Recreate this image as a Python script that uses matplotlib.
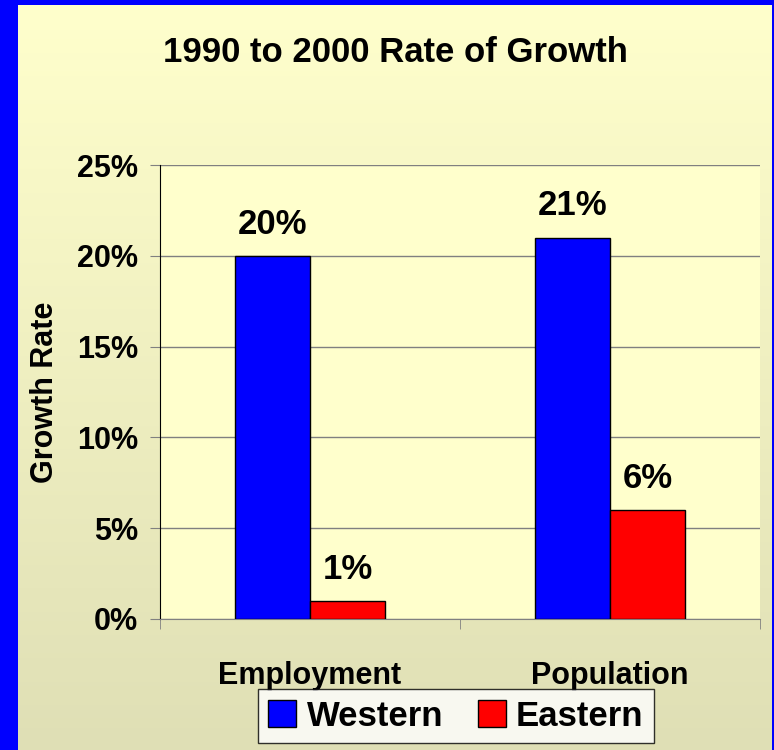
import numpy as np
import matplotlib
matplotlib.use("Agg")
import matplotlib.pyplot as plt

plt.rcParams['font.family'] = ['Liberation Sans', 'DejaVu Sans']
plt.rcParams['font.weight'] = 'bold'

# data
categories = ['Employment', 'Population']
western = [20, 21]
eastern = [1, 6]
yticks = [0, 5, 10, 15, 20, 25]

W, H = 774, 750
fig = plt.figure(figsize=(W / 100, H / 100), dpi=100)
fig.patch.set_facecolor('#0000ff')

# pale yellow background with a gradient toward khaki at the bottom
bg = fig.add_axes([18 / W, 0, (W - 18 - 2) / W, (H - 5) / H])
grad = np.linspace(0, 1, 256).reshape(-1, 1)
top = np.array([1.0, 1.0, 0.80])
bot = np.array([0.875, 0.875, 0.71])
img = top + (bot - top) * grad[..., None]
bg.imshow(img, aspect='auto', extent=[0, 1, 0, 1])
bg.set_axis_off()

ax = fig.add_axes([160 / W, 1 - 619 / H, 600 / W, (619 - 165) / H])
ax.set_facecolor('#ffffcc')

x = np.arange(len(categories))
w = 0.25
b1 = ax.bar(x - w / 2, western, w, color='#0000ff', edgecolor='black', linewidth=1, label='Western', zorder=3)
b2 = ax.bar(x + w / 2, eastern, w, color='#ff0000', edgecolor='black', linewidth=1, label='Eastern', zorder=3)

for bars, vals in [(b1, western), (b2, eastern)]:
    for r, v in zip(bars, vals):
        ax.annotate(f'{v}%', (r.get_x() + r.get_width() / 2, v), xytext=(0, 11),
                    textcoords='offset points', ha='center', va='bottom',
                    fontsize=25, fontweight='bold')

ax.set_xlim(-0.5, 1.5)
ax.set_ylim(0, 25)
ax.set_yticks(yticks)
ax.set_yticklabels([f'{t}%' for t in yticks], fontsize=22, fontweight='bold')
ax.yaxis.grid(True, color='#808080', linewidth=1)
ax.set_axisbelow(True)
ax.tick_params(axis='y', length=7, color='#808080', pad=9)

ax.set_xticks(x)
ax.set_xticklabels(categories, fontsize=22, fontweight='bold')
ax.tick_params(axis='x', which='major', length=0, pad=30)
ax.set_xticks([-0.5, 0.5, 1.5], minor=True)
ax.tick_params(axis='x', which='minor', length=7, color='#808080')

for s in ['top', 'right']:
    ax.spines[s].set_visible(False)
ax.spines['left'].set_color('black')
ax.spines['bottom'].set_color('#808080')

ax.set_ylabel('Growth Rate', fontsize=22, fontweight='bold', labelpad=12)
fig.text(395 / W, 1 - 53 / H, '1990 to 2000 Rate of Growth', ha='center', va='center',
         fontsize=25, fontweight='bold')

leg = fig.legend(loc='center', bbox_to_anchor=(456 / W, 1 - 716 / H), ncol=2,
                 fontsize=25, frameon=True, fancybox=False, edgecolor='black',
                 handlelength=0.8, handleheight=0.8, handletextpad=0.3,
                 columnspacing=1.0, borderpad=0.3, borderaxespad=0)
leg.get_frame().set_linewidth(1)
leg.get_frame().set_facecolor('white')

fig.savefig('out.png', dpi=100, facecolor=fig.get_facecolor())
